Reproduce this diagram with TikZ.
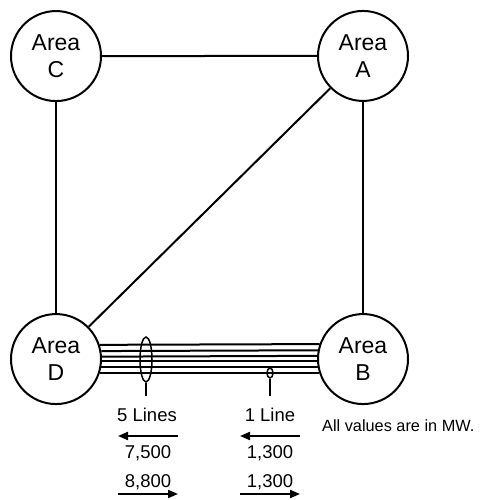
\documentclass[tikz,border=0pt]{standalone}
\usepackage{fontspec}
\setmainfont{Liberation Sans}
\usetikzlibrary{matrix,calc,shapes,arrows.meta}
\tikzset{
	area/.style   = {shape=circle, draw, line width=2pt,
		minimum size=90pt, inner sep=0pt,
		text width=56pt, align=center,
		font=\fontsize{23}{27}\selectfont},
	tie/.style    = {line width=2pt},
	bundle/.style = {shape=ellipse, draw, line width=1.5pt, inner sep=0pt},
	note/.style   = {inner sep=0pt, text height=13pt, text depth=0pt,
		font=\fontsize{18.5}{22}\selectfont},
	unit/.style   = {note, font=\fontsize{16.3}{20}\selectfont},
	flow/.style   = {line width=2pt, -{Triangle[length=10pt,width=8pt]}}
}

\begin{document}
\begin{tikzpicture}[x=1pt, y=-1pt]
	\useasboundingbox (0,0) rectangle (481,500);
	\matrix (grid) at (209.5,207.5)
	[
	matrix of nodes,
	column sep = 215pt,
	row sep    = 211pt,
	nodes      = {area}
	]
	{
	|(C)| Area C & |(A)| Area A \\
	|(D)| Area D & |(B)| Area B \\
};

	\draw[tie] (C) -- (A);
	\draw[tie] (C) -- (D);
	\draw[tie] (A) -- (B);
	\draw[tie] (A) -- (D);
	\foreach \a [evaluate=\a as \b using 180-\a] in {18.1,10.8,3.6,-3.6,-10.8,-18.1}
		\draw[tie] (D.\a) -- (B.\b);

	% groups of lines
	\node[bundle, minimum width=12pt, minimum height=45pt] (five) at (146,359.5) {};
	\node[bundle, minimum width=6pt, minimum height=10pt] (one) at (270,373) {};
	\node[note] (fivelbl) at (147,415) {5 Lines};
	\node[note] (onelbl) at (270,415) {1 Line};
	\draw[tie, shorten >=12pt] (five.south) -- (five.south |- fivelbl.north);
	\draw[tie, shorten >=12pt] (one.south) -- (one.south |- onelbl.north);

	% flows
	\node[note] (fivewest) at (148,452) {7,500};
	\node[note] (onewest)  at (270,452) {1,300};
	\node[note] (fiveeast) at (148,481) {8,800};
	\node[note] (oneeast)  at (270,481) {1,300};
	\foreach \x/\m in {148/five, 270/one} {
		\coordinate (\m r) at (\x+30,436);
		\coordinate (\m l) at (\x-30,436);
		\coordinate (\m R) at (\x+30,494);
		\coordinate (\m L) at (\x-30,494);
		\draw[flow] (\m r) -- (\m l);
		\draw[flow] (\m L) -- (\m R);
	}
	\node[unit, anchor=west] (mw) at (322,425) {All values are in MW.};
\end{tikzpicture}
\end{document}
